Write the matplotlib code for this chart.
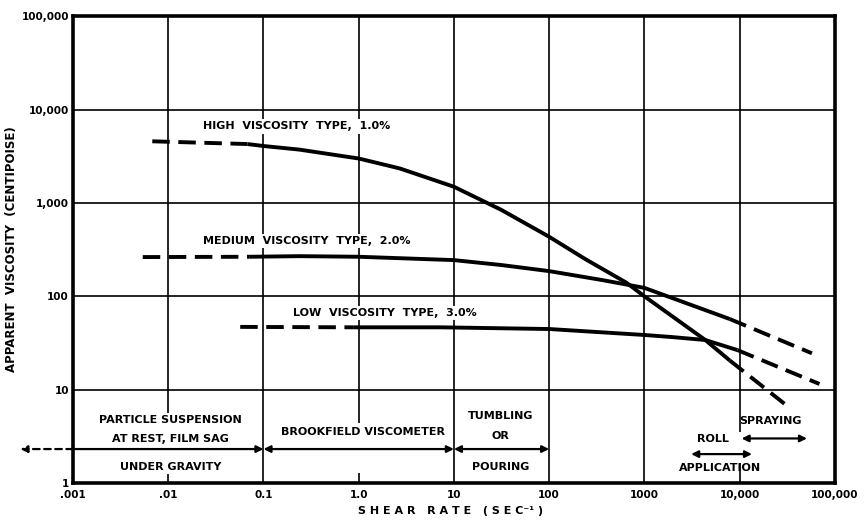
import matplotlib
matplotlib.use("Agg")
import matplotlib.pyplot as plt
import matplotlib.patches as patches

plt.rcParams['font.family'] = ['DejaVu Sans']
plt.rcParams['font.weight'] = 'bold'
plt.rcParams['axes.labelweight'] = 'bold'

# values (shear rate in 1/sec, viscosity in centipoise)
high_x = [0.0068, 0.068, 0.1, 0.24, 1, 2.7, 10, 31.6, 100, 240, 646, 1000, 4365, 7900, 31000]
high_y = [4570, 4270, 4070, 3720, 2990, 2340, 1490, 840, 434, 250, 140, 100, 34, 20.5, 6.8]
high_dash_left = 2      # first points drawn dashed
high_dash_right = 13    # from this index on drawn dashed

med_x = [0.0054, 0.072, 0.24, 1, 10, 31.6, 100, 363, 1000, 7900, 57500]
med_y = [263, 265, 269, 265, 244, 216, 186, 149, 123, 57, 24.5]
med_dash_left = 2
med_dash_right = 9

low_x = [0.057, 0.89, 7.4, 100, 1000, 2000, 4365, 9500, 69000]
low_y = [47, 46.5, 46.5, 44.6, 38.5, 36.5, 34, 26.5, 11.5]
low_dash_left = 2
low_dash_right = 7

x_ticks = [0.001, 0.01, 0.1, 1, 10, 100, 1000, 10000, 100000]
x_tick_labels = ['.001', '.01', '0.1', '1.0', '10', '100', '1000', '10,000', '100,000']
y_ticks = [1, 10, 100, 1000, 10000, 100000]
y_tick_labels = ['1', '10', '100', '1,000', '10,000', '100,000']

fig = plt.figure(figsize=(8.66, 5.22), dpi=100)
ax = fig.add_axes([0.0843, 0.0747, 0.8797, 0.8943])
ax.set_xscale('log')
ax.set_yscale('log')
ax.set_xlim(0.001, 100000)
ax.set_ylim(1, 100000)
ax.set_xticks(x_ticks)
ax.set_xticklabels(x_tick_labels)
ax.set_yticks(y_ticks)
ax.set_yticklabels(y_tick_labels)
ax.minorticks_off()
ax.tick_params(length=0, labelsize=7.5)
ax.tick_params(axis='x', pad=5)
ax.tick_params(axis='y', pad=3)
ax.grid(True, color='black', linewidth=1.2)
for s in ax.spines.values():
    s.set_linewidth(2.6)

# gaps in the vertical rulings behind the bottom captions
for gx, y0, y1 in [(0.01, 1.28, 4.38), (1, 1.28, 4.38), (10000, 1.64, 3.55)]:
    ax.add_patch(patches.Rectangle((gx * 0.95, y0), gx * 0.1, y1 - y0,
                                   facecolor='white', edgecolor='none', zorder=2))


def draw_curve(xs, ys, a, b):
    ax.plot(xs[:a], ys[:a], color='black', lw=2.8, dashes=(4.5, 2.2), zorder=3)
    ax.plot(xs[a - 1:b + 1], ys[a - 1:b + 1], color='black', lw=2.8, zorder=3,
            solid_capstyle='butt', solid_joinstyle='round')
    ax.plot(xs[b:], ys[b:], color='black', lw=2.8, dashes=(4.5, 2.2), zorder=3)


draw_curve(high_x, high_y, high_dash_left, high_dash_right)
draw_curve(med_x, med_y, med_dash_left, med_dash_right)
draw_curve(low_x, low_y, low_dash_left, low_dash_right)

box = dict(facecolor='white', edgecolor='none', pad=1.5)
lbl = dict(fontsize=8, ha='left', va='center', bbox=box, zorder=4)
ax.text(0.0234, 6600, 'HIGH  VISCOSITY  TYPE,  1.0%', **lbl)
ax.text(0.0234, 390, 'MEDIUM  VISCOSITY  TYPE,  2.0%', **lbl)
ax.text(0.204, 66, 'LOW  VISCOSITY  TYPE,  3.0%', **lbl)

band = dict(fontsize=8, ha='center', va='center', zorder=4)
ax.text(0.0105, 4.7, 'PARTICLE SUSPENSION', bbox=box, **band)
ax.text(0.0105, 2.95, 'AT REST, FILM SAG', bbox=box, **band)
ax.text(0.0105, 1.48, 'UNDER GRAVITY', bbox=box, **band)
ax.text(1.1, 3.5, 'BROOKFIELD VISCOMETER', bbox=box, **band)
ax.text(31, 5.2, 'TUMBLING', **band)
ax.text(31, 3.2, 'OR', **band)
ax.text(31, 1.48, 'POURING', **band)
ax.text(5200, 2.95, 'ROLL', **band)
ax.text(6300, 1.45, 'APPLICATION', **band)
ax.text(21000, 4.6, 'SPRAYING', **band)

arr2 = dict(arrowstyle='<|-|>', color='black', lw=1.6, mutation_scale=10,
            shrinkA=0, shrinkB=0)
arr1 = dict(arrowstyle='-|>', color='black', lw=1.6, mutation_scale=10,
            shrinkA=0, shrinkB=0)
ax.annotate('', xy=(0.1, 2.31), xytext=(0.001, 2.31), arrowprops=arr1)
ax.annotate('', xy=(0.00028, 2.31), xytext=(0.001, 2.31),
            arrowprops=dict(arr1, linestyle=(0, (3, 2))), annotation_clip=False)
ax.annotate('', xy=(10, 2.31), xytext=(0.1, 2.31), arrowprops=arr2)
ax.annotate('', xy=(100, 2.31), xytext=(10, 2.31), arrowprops=arr2)
ax.annotate('', xy=(13500, 2.04), xytext=(3100, 2.04), arrowprops=arr2)
ax.annotate('', xy=(51000, 3.0), xytext=(10500, 3.0), arrowprops=arr2)

ax.set_ylabel('APPARENT  VISCOSITY  (CENTIPOISE)', fontsize=8.5)
ax.yaxis.set_label_coords(-0.072, 0.5)
ax.set_xlabel('S H E A R   R A T E   ( S E C⁻¹ )', fontsize=8)
ax.xaxis.set_label_coords(0.495, -0.049)

fig.savefig('out.png', dpi=100)
